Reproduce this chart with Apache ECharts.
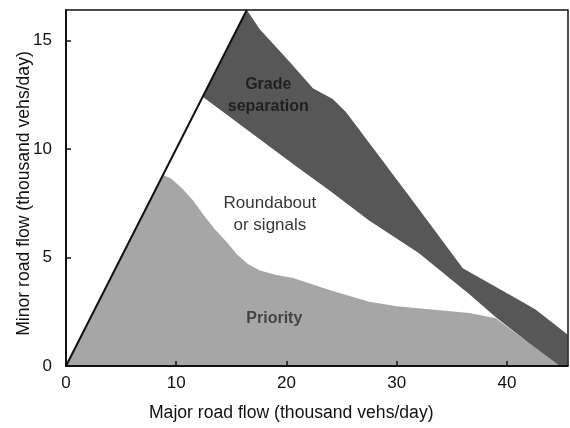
<!DOCTYPE html>
<html>
<head>
<meta charset="utf-8">
<script src="https://cdn.jsdelivr.net/npm/echarts@6/dist/echarts.min.js"></script>
<style>
html,body{margin:0;padding:0;background:#fff;}
#chart{width:570px;height:428px;}
</style>
</head>
<body>
<div id="chart"></div>
<script>
// Axis ranges / ticks
const xTicks = [0, 10, 20, 30, 40];
const yTicks = [0, 5, 10, 15];
const xMax = 45.5;
const yMax = 16.4;

// Diagonal limit line (minor flow = major flow)
const diagonal = [[0, 0], [16.4, 16.4]];

// Priority region outline
const priorityArea = [
  [0, 0], [8.8, 8.8], [9.5, 8.65], [10.5, 8.2], [11.5, 7.65], [12.5, 6.95],
  [13.5, 6.3], [14.6, 5.7], [15.5, 5.15], [16.5, 4.7], [17.6, 4.4],
  [19.0, 4.2], [20.6, 4.05], [23.9, 3.5], [27.5, 2.96],
  [30.0, 2.75], [36.6, 2.44], [39.0, 2.2], [42.0, 1.06], [44.8, 0]
];

// Grade separation band: upper edge (left to right)
const gradeUpper = [
  [12.4, 12.4], [16.4, 16.4], [17.6, 15.5], [20.3, 14.0], [22.4, 12.8],
  [24.2, 12.3], [25.4, 11.7], [31.4, 7.65], [36.0, 4.5], [41.1, 3.04],
  [42.6, 2.6], [45.5, 1.45], [45.5, 0]
];
// Grade separation band: lower edge (right to left)
const gradeLower = [
  [44.8, 0], [42.0, 1.06], [39.0, 2.25], [36.6, 3.3], [32.0, 5.2],
  [27.5, 6.7], [24.0, 8.05], [20.6, 9.3], [12.4, 12.4]
];

// Region labels
const regionLabels = [
  {name: 'Grade\nseparation', pos: [18.35, 12.45], bold: true, color: '#111', size: 16},
  {name: 'Roundabout\nor signals', pos: [18.5, 7.0], bold: false, color: '#000', size: 17},
  {name: 'Priority', pos: [18.9, 2.2], bold: true, color: '#2a2a2a', size: 16}
];

const FONT = '"Liberation Sans", Arial, Helvetica, sans-serif';

function polygonSeries(points, color, z) {
  return {
    type: 'custom',
    coordinateSystem: 'cartesian2d',
    z: z,
    clip: true,
    silent: true,
    data: points,
    encode: {x: 0, y: 1},
    renderItem: function (params, api) {
      if (params.dataIndex !== 0) return null;
      return {
        type: 'polygon',
        shape: {points: points.map(function (p) { return api.coord(p); })},
        style: {fill: color, stroke: null}
      };
    }
  };
}

const chart = echarts.init(document.getElementById('chart'), null, {renderer: 'canvas'});

const axisCommon = {
  type: 'value',
  axisLine: {show: true, lineStyle: {color: '#111', width: 2}},
  axisTick: {show: true, inside: true, length: 5, lineStyle: {color: '#111', width: 1.5}},
  splitLine: {show: false},
  z: 10
};

chart.setOption({
  backgroundColor: '#fff',
  animation: false,
  grid: {left: 66, right: 2.5, top: 10, bottom: 62, show: false},
  xAxis: [
    Object.assign({}, axisCommon, {
      position: 'bottom', min: 0, max: xMax, interval: 10,
      axisLabel: {color: '#111', fontSize: 17, fontFamily: FONT, margin: 9,
        showMaxLabel: false,
        formatter: function (v) { return xTicks.indexOf(v) >= 0 ? String(v) : ''; }},
      name: 'Major road flow (thousand vehs/day)', nameLocation: 'middle', nameGap: 38,
      nameMoveOverlap: false,
      nameTextStyle: {color: '#111', fontSize: 17.6, fontFamily: FONT, padding: [0, 51, 0, 0]}
    }),
    {
      type: 'value', position: 'top', min: 0, max: xMax, z: 10,
      axisLine: {show: true, onZero: false, lineStyle: {color: '#111', width: 1.5}},
      axisTick: {show: false}, axisLabel: {show: false}, splitLine: {show: false}
    }
  ],
  yAxis: [
    Object.assign({}, axisCommon, {
      position: 'left', min: 0, max: yMax, interval: 5,
      axisLabel: {color: '#111', fontSize: 17, fontFamily: FONT, margin: 14,
        showMaxLabel: false,
        formatter: function (v) { return yTicks.indexOf(v) >= 0 ? String(v) : ''; }},
      name: 'Minor road flow (thousand vehs/day)', nameLocation: 'middle', nameGap: 32.5,
      nameMoveOverlap: false,
      nameTextStyle: {color: '#111', fontSize: 17.6, fontFamily: FONT, padding: [0, 11, 0, 0]}
    }),
    {
      type: 'value', position: 'right', min: 0, max: yMax, z: 10,
      axisLine: {show: true, onZero: false, lineStyle: {color: '#111', width: 1.5}},
      axisTick: {show: false}, axisLabel: {show: false}, splitLine: {show: false}
    }
  ],
  series: [
    polygonSeries(priorityArea, '#a6a6a6', 1),
    polygonSeries(gradeUpper.concat(gradeLower), '#575757', 2),
    {
      type: 'line', data: diagonal, z: 5, silent: true,
      showSymbol: false, symbol: 'none',
      lineStyle: {color: '#111', width: 2}
    },
    {
      type: 'scatter', z: 6, silent: true, symbolSize: 0,
      data: regionLabels.map(function (d) {
        return {
          value: d.pos,
          label: {
            show: true, position: 'inside', formatter: d.name,
            color: d.color, fontSize: d.size, fontFamily: FONT,
            fontWeight: d.bold ? 'bold' : 'normal', lineHeight: 22, align: 'center'
          }
        };
      })
    }
  ]
});
</script>
</body>
</html>
